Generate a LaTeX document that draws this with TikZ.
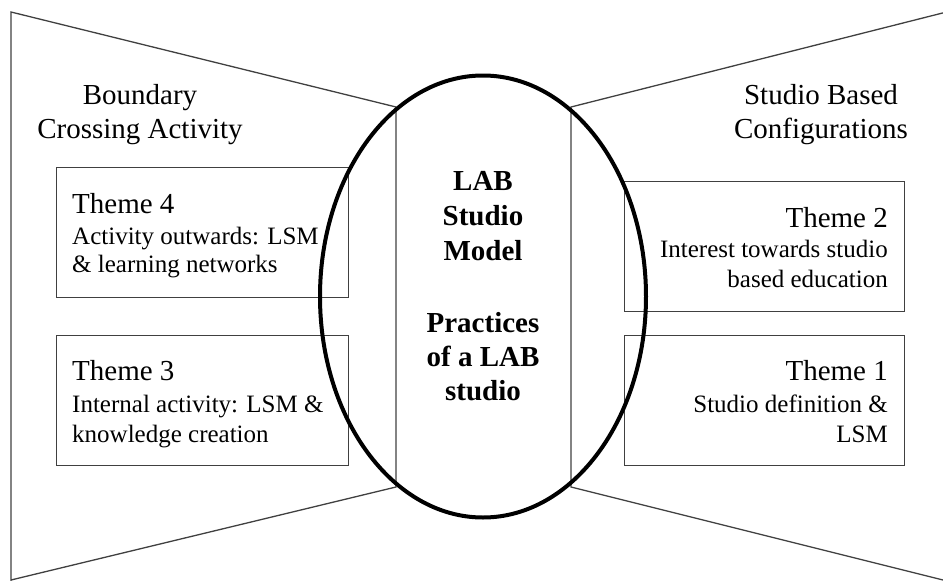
\documentclass[tikz,border=0pt]{standalone}
\usepackage{fontspec}
\setmainfont{Liberation Serif}
\begin{document}
\begin{tikzpicture}[x=1pt,y=-1pt,
  frame/.style={draw=black!75,line width=1.3pt,line join=miter},
  themebox/.style={draw=black!75,line width=1.4pt,rectangle,inner sep=0pt,anchor=north west},
  head/.style={inner sep=0pt,anchor=base,font=\fontsize{29}{34}\selectfont},
  ttl/.style={inner sep=0pt,font=\fontsize{29}{34}\selectfont},
  sub/.style={inner sep=0pt,font=\fontsize{25}{30}\selectfont},
  core/.style={inner sep=0pt,anchor=base,font=\fontsize{29}{34}\selectfont\bfseries},
  lens/.style={draw=black,line width=4pt}]
\useasboundingbox (0,0) rectangle (943,581);
% left trapezoid
\coordinate (LT) at (11,12);
\coordinate (LTi) at (396,107);
\coordinate (LBi) at (396,487);
\coordinate (LB) at (11,581);
\coordinate (LBl) at (11,580);
\draw[frame] (LB) -- (LT) -- (LTi) -- (LBi) -- (LBl);
% right trapezoid
\coordinate (RTi) at (571,107);
\coordinate (RT) at (943,12.9);
\coordinate (RBi) at (571,487);
\coordinate (RB) at (943,580);
\draw[frame] (RT) -- (RTi) -- (RBi) -- (RB);
% boxes
\node[themebox,minimum width=292pt,minimum height=130pt] (b4) at (56,167) {};
\node[themebox,minimum width=292pt,minimum height=130pt] (b3) at (56,335) {};
\node[themebox,minimum width=280pt,minimum height=130pt] (b2) at (624,181) {};
\node[themebox,minimum width=280pt,minimum height=130pt] (b1) at (624,335) {};
% headings
\node[head] (h1a) at (140,104) {Boundary};
\node[head] (h1b) at (140,138) {Crossing Activity};
\node[head] (h2a) at (821,104) {Studio Based};
\node[head] (h2b) at (821,138) {Configurations};
% theme 4
\node[ttl,anchor=base west] (t4a) at (72,213) {Theme 4};
\node[sub,anchor=base west] (t4b) at (72,244) {Activity outwards: LSM};
\node[sub,anchor=base west] (t4c) at (72,272) {\& learning networks};
% theme 3
\node[ttl,anchor=base west] (t3a) at (72,380) {Theme 3};
\node[sub,anchor=base west] (t3b) at (72,412) {Internal activity: LSM \&};
\node[sub,anchor=base west] (t3c) at (72,442) {knowledge creation};
% theme 2
\node[ttl,anchor=base east] (t2a) at (888,227) {Theme 2};
\node[sub,anchor=base east] (t2b) at (888,257) {Interest towards studio};
\node[sub,anchor=base east] (t2c) at (888,287) {based education};
% theme 1
\node[ttl,anchor=base east] (t1a) at (888,380) {Theme 1};
\node[sub,anchor=base east] (t1b) at (888,412) {Studio definition \&};
\node[sub,anchor=base east] (t1c) at (888,442) {LSM};
% centre
\draw[lens] (483,296.5) ellipse [x radius=163, y radius=221];
\node[core] (c1) at (483,190) {LAB};
\node[core] (c2) at (483,225) {Studio};
\node[core] (c3) at (483,260) {Model};
\node[core] (c4) at (483,332) {Practices};
\node[core] (c5) at (483,366) {of a LAB};
\node[core] (c6) at (483,400) {studio};
\end{tikzpicture}
\end{document}
